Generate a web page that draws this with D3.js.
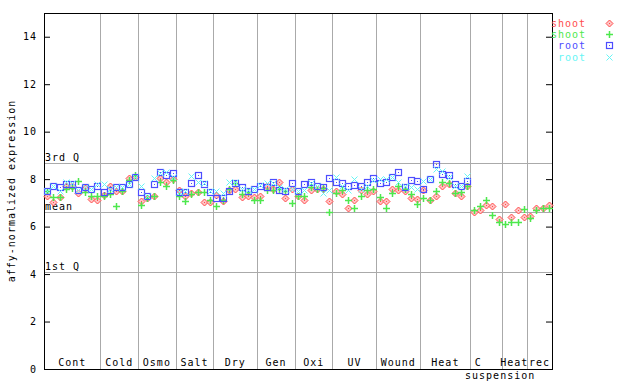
<!DOCTYPE html>
<html>
<head>
<meta charset="utf-8">
<script src="https://cdn.jsdelivr.net/npm/d3@7"></script>
<style>
body { margin: 0; background: #fff; }
text { font-family: "DejaVu Sans Mono", monospace; font-size: 10px; letter-spacing: 1px; fill: #000; }
</style>
</head>
<body>
<script>
// experiment groups and number of samples in each
var groups = ["Cont", "Cold", "Osmo", "Salt", "Dry", "Gen", "Oxi", "UV", "Wound", "Heat", "C\nsuspension", "Heat", "rec"];
var groupSizes = [9, 6, 6, 6, 7, 6, 6, 7, 7, 8, 5, 4, 4];

// expression values per sample (null = no value)
var shoot1 = [7.3, 7.02, 7.25, 7.72, 7.69, 7.42, 7.62, 7.18, 7.1,
    7.32, 7.69, 7.48, 7.48, 8.04, 8.1,
    7.06, 7.2, 7.3, 8.04, 7.9, 8.0,
    7.55, 7.27, 7.41, 7.44, 7.02, 7.02,
    7.35, 7.06, 7.55, 7.58, 7.24, 7.27, 7.24,
    7.3, 7.7, 7.6, 7.86, 7.2, 7.58,
    7.3, 7.13, 7.55, 7.58, 7.6, 7.09,
    7.48, 7.37, 6.78, 7.13, 7.55, 7.37, 7.48,
    7.06, 7.09, 7.58, 7.55, 7.48, 7.2, 7.16,
    7.55, 7.13, 7.31, 7.69, 7.8, 7.41, 7.27, 7.72,
    6.61, 6.68, 6.92, 6.87, 6.33,
    6.96, 6.4, 6.7, 6.42,
    6.45, 6.77, 6.8, 6.89];
var shoot2 = [7.5, 7.24, 7.23, 7.6, 7.62, 7.93, 7.47, 7.3, 7.3,
    7.3, 7.37, 6.88, 7.48, 7.95, 8.18,
    6.92, 7.22, 7.3, 7.86, 7.72, 7.97,
    7.3, 7.06, 7.38, 7.44, 7.45, 7.13,
    6.85, 7.1, 7.6, 7.83, 7.38, 7.44, 7.13,
    7.13, 7.55, 7.55, 7.6, 7.5, 6.99,
    7.3, 7.27, 7.65, 7.58, 7.62, 6.6,
    7.41, 7.55, 7.13, 6.78, 7.3, 7.55, 7.6,
    7.24, 6.78, 7.41, 7.69, 7.6, 7.38, 6.96,
    7.2, 7.1, 7.5, 7.87, 7.84, 7.41, 7.45, 7.69,
    6.7, 6.87, 7.13, 6.49, 6.21,
    6.11, 6.18, 6.18, 6.73,
    6.35, 6.7, 6.77, 6.8];
var root1 = [7.48, 7.7, 7.68, 7.78, 7.78, 7.56, 7.65, 7.57, 7.7,
    7.46, 7.55, 7.65, 7.65, 7.8, 8.11,
    7.45, 7.27, 7.79, 8.32, 8.18, 8.25,
    7.45, 7.45, 7.83, 8.18, 7.79, 7.45,
    7.2, 7.2, 7.52, 7.85, 7.66, 7.51, 7.58,
    7.69, 7.65, 7.87, 7.55, 7.51, 7.83,
    7.48, 7.79, 7.9, 7.73, 7.66, 8.04,
    7.87, 7.83, 7.73, 7.76, 7.72, 7.86, 8.04,
    7.83, 7.87, 8.11, 8.3, 7.66, 7.97, 7.93,
    7.58, 7.99, 8.64, 8.21, 8.16, 7.79, 7.73, 7.93,
    null, null, null, null, null,
    null, null, null, null,
    null, null, null, null];
var root2 = [7.48, 7.7, 7.5, 7.9, 7.83, 7.53, 7.65, 7.58, 7.8,
    7.8, 7.6, 7.65, 7.65, 7.8, 8.11,
    7.69, 7.27, 8.04, 8.25, 8.32, 8.1,
    7.45, 7.5, 8.14, 7.9, 7.83, 7.52,
    7.48, 7.41, 7.86, 7.9, 7.6, 7.55, 7.58,
    7.76, 7.83, 7.83, 7.65, 7.58, 7.58,
    7.51, 7.55, 7.83, 7.69, 7.41, 7.55,
    8.11, 7.7, 7.55, 8.0, 7.58, 7.7, 7.97,
    8.0, 8.0, 8.11, 7.9, 7.7, 7.65, 7.58,
    7.93, 8.0, 8.42, 8.35, 8.1, 7.69, 7.73, 8.14,
    null, null, null, null, null,
    null, null, null, null,
    null, null, null, null];

// reference lines
var refNames = ["3rd Q", "mean", "1st Q"];
var refValues = [8.67, 6.62, 4.09];

var legendNames = ["shoot", "shoot", "root", "root"];
var colors = ["#ff4d4d", "#4de84d", "#4d4dff", "#66f5f5"];

var w = 640, h = 384;
var pLeft = 44, pRight = 552, pTop = 13, pBottom = 369;

var nSamples = d3.sum(groupSizes);
var x = d3.scaleLinear().domain([0, nSamples]).range([pLeft, pRight]);
var y = d3.scaleLinear().domain([0, 15]).range([pBottom, pTop]);

var svg = d3.select("body").append("svg")
    .attr("width", w)
    .attr("height", h);

// group boundaries
var bounds = [0];
groupSizes.forEach(function(n, i) { bounds.push(bounds[i] + n); });

//grey separators
svg.selectAll("line.sep")
    .data(bounds.slice(1, -1))
    .enter().append("line")
    .attr("class", "sep")
    .attr("x1", function(d) { return Math.round(x(d)) + 0.5; })
    .attr("x2", function(d) { return Math.round(x(d)) + 0.5; })
    .attr("y1", pTop)
    .attr("y2", pBottom)
    .attr("stroke", "#aaaaaa");

//reference lines + labels
svg.selectAll("line.ref")
    .data(refValues)
    .enter().append("line")
    .attr("class", "ref")
    .attr("x1", pLeft)
    .attr("x2", pRight)
    .attr("y1", function(d) { return Math.round(y(d)) + 0.5; })
    .attr("y2", function(d) { return Math.round(y(d)) + 0.5; })
    .attr("stroke", "#aaaaaa");

svg.selectAll("text.ref")
    .data(refValues)
    .enter().append("text")
    .attr("class", "ref")
    .attr("x", pLeft + 1)
    .attr("y", function(d) { return Math.round(y(d)) - 2; })
    .text(function(d, i) { return refNames[i]; });

// axes
svg.append("g")
    .attr("transform", "translate(" + pLeft + ",0)")
    .call(d3.axisLeft(y).tickValues(d3.range(0, 15, 2)).tickSize(-6).tickPadding(7))
    .call(function(g) {
        g.select(".domain").remove();
        g.selectAll("text").attr("font-family", null).attr("font-size", null).attr("fill", null);
    });

svg.append("g")
    .attr("transform", "translate(" + pRight + ",0)")
    .call(d3.axisRight(y).tickValues(d3.range(0, 15, 2)).tickSize(-6).tickFormat(""))
    .call(function(g) { g.select(".domain").remove(); });

//frame
svg.append("rect")
    .attr("x", pLeft + 0.5)
    .attr("y", pTop + 0.5)
    .attr("width", pRight - pLeft)
    .attr("height", pBottom - pTop)
    .attr("fill", "none")
    .attr("stroke", "#000");

svg.append("text")
    .attr("transform", "translate(15," + (pTop + pBottom) / 2 + ") rotate(-90)")
    .attr("text-anchor", "middle")
    .text("affy-normalized expression");

// group labels
var glab = svg.selectAll("text.grp")
    .data(groups)
    .enter().append("text")
    .attr("class", "grp")
    .attr("text-anchor", "middle")
    .attr("y", pBottom - 3);

glab.each(function(d, i) {
    var cx = (x(bounds[i]) + x(bounds[i + 1])) / 2;
    var lines = d.split("\n");
    var t = d3.select(this);
    lines.forEach(function(s, k) {
        t.append("tspan")
            .attr("x", lines.length > 1 ? cx + (k === 0 ? -8 : 14) : cx)
            .attr("dy", k === 0 ? 0 : 13)
            .text(s);
    });
});

// markers (drawn on a pixel grid so they stay crisp)
var series = [shoot1, shoot2, root1, root2];
var shapes = [
    function(g, c) {
        g.append("path").attr("d", "M0,-3.5L3.5,0L0,3.5L-3.5,0Z")
            .attr("fill", "#ffc4c4").attr("stroke", c).attr("stroke-width", 1);
        g.append("rect").attr("x", -0.5).attr("y", -0.5).attr("width", 1).attr("height", 1).attr("fill", c);
    },
    function(g, c) {
        g.append("path").attr("d", "M-3.5,0H3.5M0,-3.5V3.5")
            .attr("stroke", c).attr("stroke-width", 1.5);
    },
    function(g, c) {
        g.append("rect").attr("x", -3).attr("y", -3).attr("width", 6).attr("height", 6)
            .attr("fill", "none").attr("stroke", c).attr("stroke-width", 1.2);
        g.append("rect").attr("x", -0.5).attr("y", -0.5).attr("width", 1).attr("height", 1).attr("fill", c);
    },
    function(g, c) {
        g.append("path").attr("d", "M-3,-3L3,3M3,-3L-3,3")
            .attr("stroke", c).attr("stroke-width", 1);
    }
];

series.forEach(function(vals, s) {
    svg.selectAll("g.s" + s)
        .data(vals.map(function(v, i) { return {i: i, v: v}; }).filter(function(d) { return d.v != null; }))
        .enter().append("g")
        .attr("class", "s" + s)
        .attr("transform", function(d) {
            return "translate(" + (Math.round(x(d.i + 0.5)) + 0.5) + "," + (Math.round(y(d.v)) + 0.5) + ")";
        })
        .each(function() { shapes[s](d3.select(this), colors[s]); });
});

// legend
var leg = svg.selectAll("g.leg")
    .data(legendNames)
    .enter().append("g")
    .attr("class", "leg")
    .attr("transform", function(d, i) { return "translate(0," + Math.round(23 + i * 11.2) + ")"; });

leg.append("text")
    .attr("x", 586)
    .attr("y", 4)
    .attr("text-anchor", "end")
    .style("fill", function(d, i) { return colors[i]; })
    .text(function(d) { return d; });

leg.append("g")
    .attr("transform", "translate(609.5,0.5)")
    .each(function(d, i) { shapes[i](d3.select(this), colors[i]); });
</script>
</body>
</html>
